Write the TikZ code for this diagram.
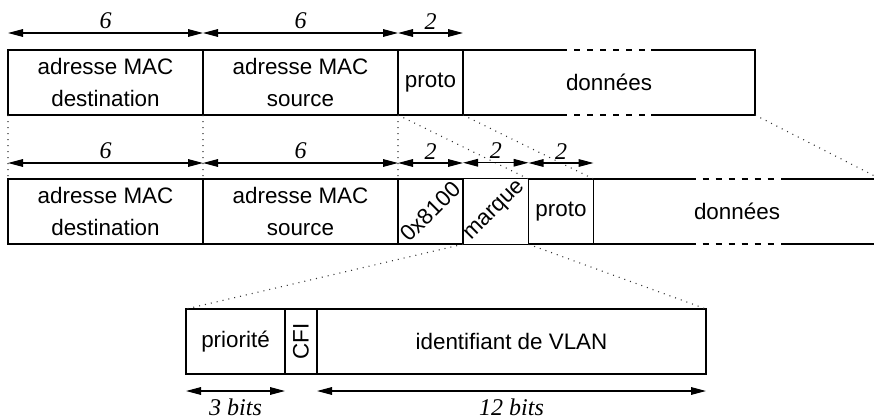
\documentclass[tikz,border=0pt]{standalone}
\usepackage{fontspec}
\setmainfont{Liberation Sans}
\newfontfamily\numfont{Liberation Serif}
\usepackage{graphicx}
\usetikzlibrary{arrows.meta,positioning}

\begin{document}
\begin{tikzpicture}[
  x=0.5pt, y=-0.5pt,
  font=\fontsize{11.2}{16}\selectfont,
  node distance=0pt,
  field/.style={draw, line width=0.6pt, inner sep=0pt, outer sep=0pt, minimum height=32.5pt, align=center},
  size/.style={{Triangle[length=7.5pt,width=3.8pt]}-{Triangle[length=7.5pt,width=3.8pt]}, line width=0.6pt},
  num/.style={font=\fontsize{12}{14}\selectfont\numfont\itshape, inner sep=1.7pt},
  zoomline/.style={line width=0.55pt, dash pattern=on 0.5pt off 2.5pt, black!80},
  gap/.style={draw=white, line width=2pt, postaction={draw=black, line width=0.6pt, dash pattern=on 3pt off 3.5pt, dash phase=3pt}}
]
\clip (0,0) rectangle (874,418);

% trame Ethernet
\node[field, minimum width=97.5pt, anchor=north west] (dst1) at (8,50) {adresse MAC\\destination};
\node[field, minimum width=97.5pt, right=of dst1] (src1) {adresse MAC\\source};
\node[field, minimum width=32.5pt, right=of src1] (proto1) {proto};
\node[field, minimum width=146pt, right=of proto1] (data1) {données};

% trame 802.1Q
\node[field, minimum width=97.5pt, anchor=north west] (dst2) at (8,179) {adresse MAC\\destination};
\node[field, minimum width=97.5pt, right=of dst2] (src2) {adresse MAC\\source};
\node[field, minimum width=32.5pt, right=of src2] (tpid) {\rotatebox{45}{0x8100}};
\node[field, minimum width=32.5pt, right=of tpid] (tag) {\rotatebox{45}{marque}};
\node[field, minimum width=32.5pt, right=of tag] (proto2) {proto};
\node[field, minimum width=143.5pt, right=of proto2] (data2) {données};

% marque
\node[field, minimum width=49.5pt, anchor=north west] (prio) at (186,309) {priorité};
\node[field, minimum width=16pt, right=of prio] (cfi) {\rotatebox{90}{CFI}};
\node[field, minimum width=194.5pt, right=of cfi] (vid) {identifiant de VLAN};

\draw[gap] ([xshift=52pt]data1.north west) -- ([xshift=94pt]data1.north west)
  ([xshift=52pt]data1.south west) -- ([xshift=94pt]data1.south west)
  ([xshift=51pt]data2.north west) -- ([xshift=93.5pt]data2.north west)
  ([xshift=51pt]data2.south west) -- ([xshift=93.5pt]data2.south west);

\draw[zoomline] (dst1.south west) -- (dst2.north west)
  (src1.south west) -- (src2.north west)
  (proto1.south west) -- (tpid.north west)
  (proto1.south west) -- (proto2.north west)
  (proto1.south east) -- (proto2.north east)
  (data1.south east) -- (data2.north east)
  (tag.south west) -- (prio.north west)
  (tag.south east) -- (vid.north east);

% tailles
\foreach \f/\n in {dst1/6, src1/6, proto1/2}
  \draw[size] ([yshift=8.5pt]\f.north west) -- node[num, above] {\n} ([yshift=8.5pt]\f.north east);
\foreach \f/\n in {dst2/6, src2/6, tpid/2, tag/2, proto2/2}
  \draw[size] ([yshift=8pt]\f.north west) -- node[num, above] {\n} ([yshift=8pt]\f.north east);
\draw[size] ([yshift=-8.5pt]prio.south west) -- node[num, below, inner sep=3.6pt] {3 bits} ([yshift=-8.5pt]prio.south east);
\draw[size] ([yshift=-8.5pt]vid.south west) -- node[num, below, inner sep=3.6pt] {12 bits} ([yshift=-8.5pt]vid.south east);
\end{tikzpicture}
\end{document}
